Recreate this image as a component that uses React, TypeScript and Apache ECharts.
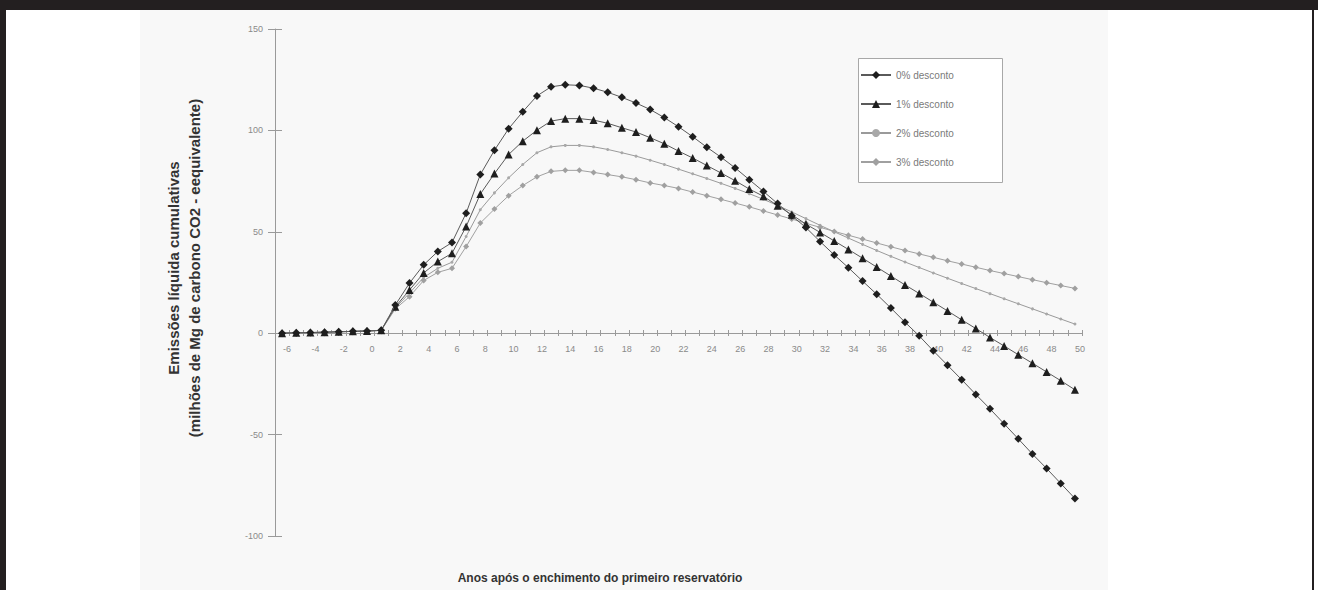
import React, { useEffect, useRef } from "react";
import * as echarts from "echarts";

const years = [
  "-6", "-5", "-4", "-3", "-2", "-1", "0", "1", "2", "3", "4", "5", "6", "7", "8", "9",
  "10", "11", "12", "13", "14", "15", "16", "17", "18", "19", "20", "21", "22", "23",
  "24", "25", "26", "27", "28", "29", "30", "31", "32", "33", "34", "35", "36", "37",
  "38", "39", "40", "41", "42", "43", "44", "45", "46", "47", "48", "49", "50",
];

const seriesNames = ["0% desconto", "1% desconto", "2% desconto", "3% desconto"];

const desconto0 = [
  0, 0.2, 0.3, 0.5, 0.7, 0.9, 1.1, 1.4,
  13.9, 24.7, 33.7, 40.3, 44.7, 59.2, 78.2, 90.2, 100.8, 109.2, 117, 121.5, 122.5, 122.2,
  120.8, 118.8, 116.3, 113.5, 110.3, 106.3, 101.8, 96.9, 91.7, 86.8, 81.5, 75.7, 69.9,
  63.9, 57.9, 52.1, 45.2, 38.6, 32.3, 25.7, 19.2, 12.4, 5.4, -1.3, -8.7, -15.8, -22.9,
  -30.2, -37.3, -44.7, -52.1, -59.6, -66.7, -74.1, -81.5,
];

const desconto1 = [
  0, 0.2, 0.3, 0.5, 0.7, 0.9, 1.1, 1.4,
  13, 21.3, 29.7, 35.3, 39.4, 52.6, 68.6, 78.7, 88.1, 94.7, 100.1, 104.6, 105.8, 105.8,
  105.1, 103.5, 101.3, 99.2, 96.4, 93.4, 89.8, 86.4, 82.7, 79, 75.2, 71.1, 67.5, 62.9,
  58.4, 53.8, 49.7, 45.5, 41.3, 37, 32.6, 28.2, 23.8, 19.6, 15.3, 11, 6.6, 2.3, -2.1,
  -6.3, -10.6, -14.8, -19.1, -23.4, -27.9,
];

const desconto2 = [
  0, 0.2, 0.3, 0.5, 0.7, 0.9, 1.1, 1.4,
  12.5, 19.8, 27.5, 32, 35, 47.7, 60.9, 69.2, 76.6, 83.2, 89, 91.9, 92.6, 92.6, 91.9,
  90.6, 89, 87.3, 85.3, 83.2, 80.9, 78.6, 76.3, 73.9, 71.4, 68.8, 66, 63, 59.8, 56.5,
  53.2, 50, 46.9, 43.8, 40.8, 37.9, 35.1, 32.4, 29.7, 27.1, 24.5, 22, 19.5, 17, 14.5,
  12, 9.5, 7, 4.5,
];

const desconto3 = [
  0, 0.2, 0.3, 0.5, 0.7, 0.9, 1.1, 1.4,
  12, 18, 26, 30, 32, 42.7, 54.3, 61.2, 67.8, 72.8, 77.1, 79.8, 80.3, 80.3, 79.3, 78.2,
  77.1, 75.7, 74.1, 72.8, 71.4, 69.6, 67.8, 66, 64.2, 62.3, 60.3, 58.3, 56.3, 54.2, 52.2,
  50.2, 48.3, 46.4, 44.5, 42.6, 40.8, 39.1, 37.4, 35.7, 34.1, 32.5, 30.9, 29.4, 27.9,
  26.4, 24.9, 23.5, 22.1,
];

const yTitle1 = "Emissões líquida cumulativas";
const yTitle2 = "(milhões de Mg de carbono CO2 - eequivalente)";
const xTitle = "Anos após o enchimento do primeiro reservatório";

const FONT = '"Liberation Sans", Arial, sans-serif';

export default function App() {
  const ref = useRef<HTMLDivElement>(null);

  useEffect(() => {
    document.body.style.margin = "0";
    const chart = echarts.init(ref.current as HTMLDivElement, null, { renderer: "svg" });

    const axisGray = "#9a9a9a";
    const labelStyle = { fontSize: 9, color: "#8a8a8a", fontFamily: FONT };
    // grid spans y 29..536; value 0 sits at y 333, so the x axis is lifted by 203 px
    const xOffset = -203;

    chart.setOption({
      animation: false,
      backgroundColor: "#ffffff",
      textStyle: { fontFamily: FONT },
      grid: { left: 275, top: 29, width: 807, height: 507, containLabel: false },
      legend: {
        orient: "vertical",
        left: 860,
        top: 70,
        itemWidth: 30,
        itemHeight: 10,
        itemGap: 19,
        padding: 0,
        textStyle: { fontSize: 10, color: "#7a7a7a", fontFamily: FONT, lineHeight: 10 },
        data: seriesNames,
      },
      xAxis: [
        {
          type: "category",
          data: years,
          boundaryGap: true,
          position: "bottom",
          offset: xOffset,
          axisLine: { onZero: false, lineStyle: { color: axisGray, width: 1 } },
          axisTick: { show: true, interval: 0, length: 3, lineStyle: { color: axisGray } },
          axisLabel: { interval: 1, margin: 11, padding: [0, 0, 0, 10], ...labelStyle },
          splitLine: { show: false },
        },
        {
          type: "category",
          data: years,
          position: "bottom",
          offset: xOffset,
          boundaryGap: true,
          axisLine: { show: false, onZero: false },
          axisTick: { show: true, inside: true, interval: 0, length: 3, lineStyle: { color: axisGray } },
          axisLabel: { show: false },
          splitLine: { show: false },
        },
      ],
      yAxis: [
        {
          type: "value",
          min: -100,
          max: 150,
          interval: 50,
          axisLine: { show: true, lineStyle: { color: axisGray, width: 1 } },
          axisTick: { show: true, length: 7, lineStyle: { color: axisGray } },
          axisLabel: { margin: 12, ...labelStyle },
          splitLine: { show: false },
        },
        {
          type: "value",
          min: -100,
          max: 150,
          interval: 50,
          position: "left",
          axisLine: { show: false },
          axisTick: { show: true, inside: true, length: 7, lineStyle: { color: axisGray } },
          axisLabel: { show: false },
          splitLine: { show: false },
        },
      ],
      series: [
        {
          name: seriesNames[0],
          type: "line",
          data: desconto0,
          symbol: "diamond",
          symbolSize: 8,
          itemStyle: { color: "#1e1e1e" },
          lineStyle: { color: "#5a5a5a", width: 1 },
          z: 5,
        },
        {
          name: seriesNames[1],
          type: "line",
          data: desconto1,
          symbol: "triangle",
          symbolSize: 8,
          itemStyle: { color: "#1e1e1e" },
          lineStyle: { color: "#5a5a5a", width: 1 },
          z: 4,
        },
        {
          name: seriesNames[2],
          type: "line",
          data: desconto2,
          symbol: "circle",
          symbolSize: 3,
          itemStyle: { color: "#a8a8a8" },
          lineStyle: { color: "#9a9a9a", width: 1 },
          z: 3,
        },
        {
          name: seriesNames[3],
          type: "line",
          data: desconto3,
          symbol: "diamond",
          symbolSize: 6,
          itemStyle: { color: "#a0a0a0" },
          lineStyle: { color: "#a0a0a0", width: 1 },
          z: 3,
        },
      ],
      graphic: [
        {
          type: "rect",
          z: -10,
          silent: true,
          shape: { x: 140, y: 10, width: 968, height: 580 },
          style: { fill: "#f8f8f8" },
        },
        {
          type: "rect",
          z: -5,
          silent: true,
          shape: { x: 858.5, y: 58.5, width: 144, height: 124 },
          style: { fill: "#ffffff", stroke: "#a8a8a8", lineWidth: 1 },
        },
        {
          type: "text",
          x: 173,
          y: 268,
          rotation: Math.PI / 2,
          style: {
            text: yTitle1,
            align: "center",
            verticalAlign: "middle",
            font: `bold 15px ${FONT}`,
            fill: "#333333",
          },
        },
        {
          type: "text",
          x: 194,
          y: 268,
          rotation: Math.PI / 2,
          style: {
            text: yTitle2,
            align: "center",
            verticalAlign: "middle",
            font: `bold 15px ${FONT}`,
            fill: "#333333",
          },
        },
        {
          type: "text",
          x: 600,
          y: 578,
          style: {
            text: xTitle,
            align: "center",
            verticalAlign: "middle",
            font: `bold 12px ${FONT}`,
            fill: "#333333",
          },
        },
        {
          type: "rect",
          z: 100,
          silent: true,
          shape: { x: 0, y: 0, width: 1318, height: 10 },
          style: { fill: "#231f20" },
        },
        {
          type: "rect",
          z: 100,
          silent: true,
          shape: { x: 0, y: 0, width: 6, height: 590 },
          style: { fill: "#231f20" },
        },
        {
          type: "rect",
          z: 100,
          silent: true,
          shape: { x: 1312, y: 0, width: 2, height: 590 },
          style: { fill: "#231f20" },
        },
      ],
    });

    return () => chart.dispose();
  }, []);

  return (
    <div
      ref={ref}
      style={{ position: "fixed", left: 0, top: 0, width: 1318, height: 590, background: "#fff" }}
    />
  );
}
